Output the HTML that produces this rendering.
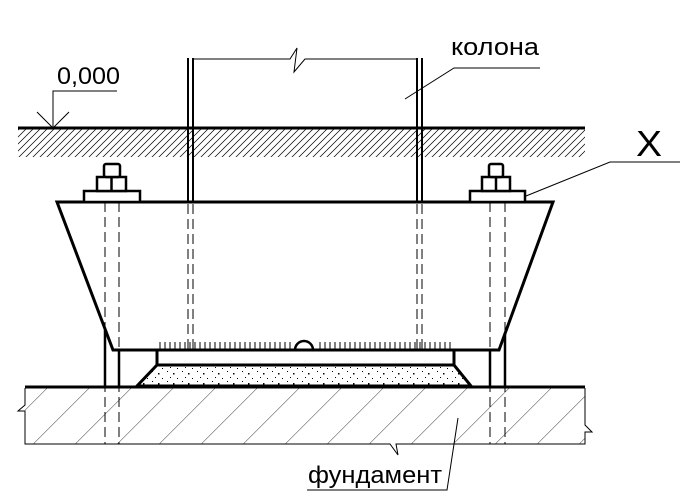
<!DOCTYPE html>
<html><head><meta charset="utf-8"><style>html,body{margin:0;padding:0;background:#fff}svg{display:block}</style></head><body>
<svg width="685" height="499" viewBox="0 0 685 499" xmlns="http://www.w3.org/2000/svg">
<defs>
<pattern id="gh" patternUnits="userSpaceOnUse" width="7" height="30" patternTransform="skewX(-45)"><line x1="1" y1="0" x2="1" y2="30" stroke="#000" stroke-width="1"/></pattern>
<pattern id="fh" patternUnits="userSpaceOnUse" width="42" height="60" patternTransform="translate(33,444) skewX(-45)"><line x1="0" y1="0" x2="0" y2="60" stroke="#000" stroke-width="1"/></pattern>
<pattern id="dots" patternUnits="userSpaceOnUse" width="15" height="10"><rect x="2" y="1" width="1" height="1" fill="#000"/><rect x="8" y="3" width="1.5" height="1.5" fill="#000"/><rect x="5" y="7" width="1" height="1" fill="#000"/><rect x="12" y="8" width="1" height="1" fill="#000"/></pattern>
</defs>
<g fill="none" stroke="#000">
<rect x="18" y="129" width="567" height="28" fill="url(#gh)" stroke="none"/>
<line x1="18" y1="128" x2="585" y2="128" stroke-width="3"/>
<line x1="188" y1="58" x2="188" y2="202" stroke-width="2"/>
<line x1="193" y1="58" x2="193" y2="202" stroke-width="2"/>
<line x1="417" y1="58" x2="417" y2="202" stroke-width="2"/>
<line x1="422" y1="58" x2="422" y2="202" stroke-width="2"/>
<polyline points="193,59 290,59 297,48 294,72 305,59 417,59" stroke-width="1"/>
<rect x="25" y="388" width="560" height="56" fill="url(#fh)" stroke="none"/>
<line x1="25" y1="387" x2="585" y2="387" stroke-width="3"/>
<polyline points="25,388 25,405 18,411 25,411 25,444 390,444 398,455 396,444 585,444 585,432 592,432 585,425 585,388" stroke-width="1"/>
<polygon points="137,386 157,365 454,365 471,386" fill="url(#dots)" stroke-width="3"/>
<line x1="157" y1="350" x2="157" y2="365" stroke-width="3"/>
<line x1="454" y1="350" x2="454" y2="365" stroke-width="3"/>
<line x1="105" y1="330" x2="105" y2="387" stroke-width="2.5"/>
<line x1="119" y1="350" x2="119" y2="387" stroke-width="2.5"/>
<line x1="490" y1="350" x2="490" y2="387" stroke-width="2.5"/>
<line x1="505" y1="330" x2="505" y2="387" stroke-width="2.5"/>
<polygon points="57,202 553,202 499,350 113,350" fill="#fff" stroke-width="3"/>
<path d="M160 342v8M165 342v8M170 342v8M175 342v8M180 342v8M185 342v8M190 342v8M195 342v8M200 342v8M205 342v8M210 342v8M215 342v8M220 342v8M225 342v8M230 342v8M235 342v8M240 342v8M245 342v8M250 342v8M255 342v8M260 342v8M265 342v8M270 342v8M275 342v8M280 342v8M285 342v8M290 342v8M320 342v8M325 342v8M330 342v8M335 342v8M340 342v8M345 342v8M350 342v8M355 342v8M360 342v8M365 342v8M370 342v8M375 342v8M380 342v8M385 342v8M390 342v8M395 342v8M400 342v8M405 342v8M410 342v8M415 342v8M420 342v8M425 342v8M430 342v8M435 342v8M440 342v8M445 342v8M450 342v8" stroke-width="1"/>
<path d="M295 350 A9 9 0 0 1 313 350" stroke-width="2.5"/>
<g stroke-width="1" stroke-dasharray="10,5">
<line x1="105" y1="202" x2="105" y2="444"/><line x1="119" y1="202" x2="119" y2="444"/>
<line x1="490" y1="202" x2="490" y2="444"/><line x1="505" y1="202" x2="505" y2="444"/>
<line x1="188" y1="204" x2="188" y2="350"/><line x1="193" y1="204" x2="193" y2="350"/>
<line x1="417" y1="204" x2="417" y2="350"/><line x1="422" y1="204" x2="422" y2="350"/>
</g>
<g stroke-width="2.5" fill="#fff">
<rect x="84" y="191" width="56" height="11"/><rect x="97" y="177" width="29" height="14"/><rect x="104" y="164" width="16" height="13" rx="2"/>
<line x1="111.5" y1="177" x2="111.5" y2="191"/>
<rect x="470" y="191" width="55" height="11"/><rect x="482" y="177" width="28" height="14"/><rect x="489" y="164" width="14" height="13" rx="2"/>
<line x1="496" y1="177" x2="496" y2="191"/>
</g>
<g stroke-width="1">
<polyline points="117,91 53,91 53,128"/>
<polyline points="37,112 53,128 69,112"/>
<polyline points="540,68 454,68 405,99"/>
<polyline points="680,162 610,162 526,196"/>
<polyline points="307,490 447,490 458,418"/>
</g>
</g>
<g font-family="'Liberation Sans', sans-serif" fill="#000">
<text x="57" y="84" font-size="24" textLength="63" lengthAdjust="spacingAndGlyphs">0,000</text>
<text x="451" y="55" font-size="24" textLength="88" lengthAdjust="spacingAndGlyphs">колона</text>
<text x="636" y="156" font-size="36" textLength="26" lengthAdjust="spacingAndGlyphs">X</text>
<text x="308" y="483" font-size="24" textLength="134" lengthAdjust="spacingAndGlyphs">фундамент</text>
</g>
</svg>
</body></html>
